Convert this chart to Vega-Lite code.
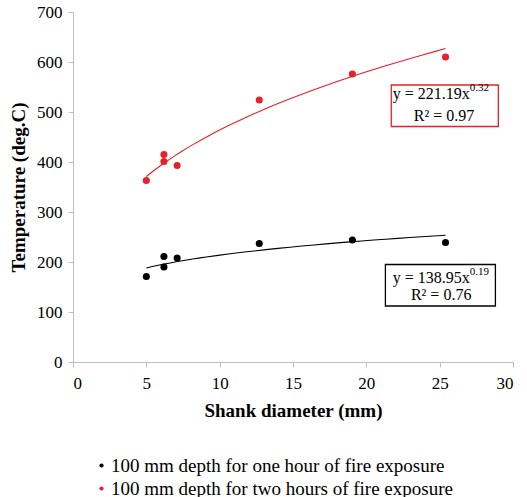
{
  "$schema": "https://vega.github.io/schema/vega-lite/v6.json",
  "width": 440,
  "height": 350,
  "padding": {"left": 9, "top": 3, "right": 5, "bottom": 2},
  "background": "white",
  "config": {
    "view": {"stroke": null},
    "font": "Liberation Serif"
  },
  "datasets": {
    "pts": [
      {"series": "100 mm depth for one hour of fire exposure", "d": 5.0, "t": 171},
      {"series": "100 mm depth for one hour of fire exposure", "d": 6.2, "t": 190},
      {"series": "100 mm depth for one hour of fire exposure", "d": 6.2, "t": 211},
      {"series": "100 mm depth for one hour of fire exposure", "d": 7.1, "t": 208},
      {"series": "100 mm depth for one hour of fire exposure", "d": 12.7, "t": 237},
      {"series": "100 mm depth for one hour of fire exposure", "d": 19.05, "t": 244},
      {"series": "100 mm depth for one hour of fire exposure", "d": 25.4, "t": 239},
      {"series": "100 mm depth for two hours of fire exposure", "d": 5.0, "t": 363},
      {"series": "100 mm depth for two hours of fire exposure", "d": 6.2, "t": 401},
      {"series": "100 mm depth for two hours of fire exposure", "d": 6.2, "t": 415},
      {"series": "100 mm depth for two hours of fire exposure", "d": 7.1, "t": 393},
      {"series": "100 mm depth for two hours of fire exposure", "d": 12.7, "t": 524},
      {"series": "100 mm depth for two hours of fire exposure", "d": 19.05, "t": 576},
      {"series": "100 mm depth for two hours of fire exposure", "d": 25.4, "t": 610}
    ],
    "boxes": [
      {"series": "two", "x1": 21.7, "x2": 29.0, "y1": 471, "y2": 554},
      {"series": "one", "x1": 21.3, "x2": 28.8, "y1": 112, "y2": 195}
    ],
    "notes": [
      {"part": "main", "x": 27.05, "y": 536, "label": "y = 221.19x"},
      {"part": "exp", "x": 27.05, "y": 536, "label": "0.32"},
      {"part": "r2", "x": 25.3, "y": 492, "label": "R² = 0.97"},
      {"part": "main", "x": 27.05, "y": 168, "label": "y = 138.95x"},
      {"part": "exp", "x": 27.05, "y": 168, "label": "0.19"},
      {"part": "r2", "x": 25.1, "y": 134, "label": "R² = 0.76"}
    ]
  },
  "layer": [
    {
      "mark": {"type": "rule", "color": "#c8c8c8", "strokeWidth": 1},
      "encoding": {
        "x": {"datum": 30, "type": "quantitative", "scale": {"domain": [0, 30]}, "axis": {"title": "Shank diameter (mm)", "values": [0,5,10,15,20,25,30], "grid": false, "domainColor": "#bfbfbf", "tickColor": "#bfbfbf", "tickSize": 5, "labelPadding": 8, "labelFont": "Liberation Serif", "labelFontSize": 17, "labelColor": "#000", "titleFont": "Liberation Serif", "titleFontSize": 19, "titleFontWeight": "bold", "titleColor": "#000", "titlePadding": 10}}
      }
    },
    {
      "data": {"name": "pts"},
      "transform": [{"regression": "t", "on": "d", "groupby": ["series"], "method": "pow", "extent": [5, 25.4]}],
      "mark": {"type": "line", "strokeWidth": 1.1, "interpolate": "monotone"},
      "encoding": {
        "x": {"field": "d", "type": "quantitative"},
        "y": {"field": "t", "type": "quantitative", "scale": {"domain": [0, 700]}, "axis": {"title": "Temperature (deg.C)", "values": [0,100,200,300,400,500,600,700], "grid": false, "domainColor": "#bfbfbf", "tickColor": "#bfbfbf", "tickSize": 5, "labelPadding": 6, "labelFont": "Liberation Serif", "labelFontSize": 17, "labelColor": "#000", "titleFont": "Liberation Serif", "titleFontSize": 19, "titleFontWeight": "bold", "titleColor": "#000", "titlePadding": 8}},
        "color": {"field": "series", "type": "nominal", "scale": {"domain": ["100 mm depth for one hour of fire exposure", "100 mm depth for two hours of fire exposure"], "range": ["#000000", "#e8202a"]}}
      }
    },
    {
      "data": {"name": "pts"},
      "mark": {"type": "circle", "size": 50, "opacity": 1},
      "encoding": {
        "x": {"field": "d", "type": "quantitative"},
        "y": {"field": "t", "type": "quantitative"},
        "color": {"field": "series", "type": "nominal", "legend": {"title": null, "orient": "bottom", "direction": "vertical", "labelFont": "Liberation Serif", "labelFontSize": 19, "labelColor": "#000", "labelLimit": 500, "labelOffset": 0, "symbolSize": 18, "symbolType": "circle", "symbolStrokeWidth": 0, "rowPadding": 3, "padding": 19, "offset": 17}}
      }
    },
    {
      "data": {"name": "boxes"},
      "transform": [{"filter": "datum.series === 'two'"}],
      "mark": {"type": "rect", "fill": "white", "stroke": "#e8202a", "strokeWidth": 1.3},
      "encoding": {
        "x": {"field": "x1", "type": "quantitative"},
        "x2": {"field": "x2"},
        "y": {"field": "y1", "type": "quantitative"},
        "y2": {"field": "y2"}
      }
    },
    {
      "data": {"name": "boxes"},
      "transform": [{"filter": "datum.series === 'one'"}],
      "mark": {"type": "rect", "fill": "white", "stroke": "#000000", "strokeWidth": 1.3},
      "encoding": {
        "x": {"field": "x1", "type": "quantitative"},
        "x2": {"field": "x2"},
        "y": {"field": "y1", "type": "quantitative"},
        "y2": {"field": "y2"}
      }
    },
    {
      "data": {"name": "notes"},
      "transform": [{"filter": "datum.part === 'main'"}],
      "mark": {"type": "text", "align": "right", "baseline": "middle", "fontSize": 16, "font": "Liberation Serif", "color": "#000"},
      "encoding": {
        "x": {"field": "x", "type": "quantitative"},
        "y": {"field": "y", "type": "quantitative"},
        "text": {"field": "label"}
      }
    },
    {
      "data": {"name": "notes"},
      "transform": [{"filter": "datum.part === 'exp'"}],
      "mark": {"type": "text", "align": "left", "baseline": "middle", "fontSize": 11, "dy": -6, "font": "Liberation Serif", "color": "#000"},
      "encoding": {
        "x": {"field": "x", "type": "quantitative"},
        "y": {"field": "y", "type": "quantitative"},
        "text": {"field": "label"}
      }
    },
    {
      "data": {"name": "notes"},
      "transform": [{"filter": "datum.part === 'r2'"}],
      "mark": {"type": "text", "align": "center", "baseline": "middle", "fontSize": 16, "font": "Liberation Serif", "color": "#000"},
      "encoding": {
        "x": {"field": "x", "type": "quantitative"},
        "y": {"field": "y", "type": "quantitative"},
        "text": {"field": "label"}
      }
    }
  ]
}
